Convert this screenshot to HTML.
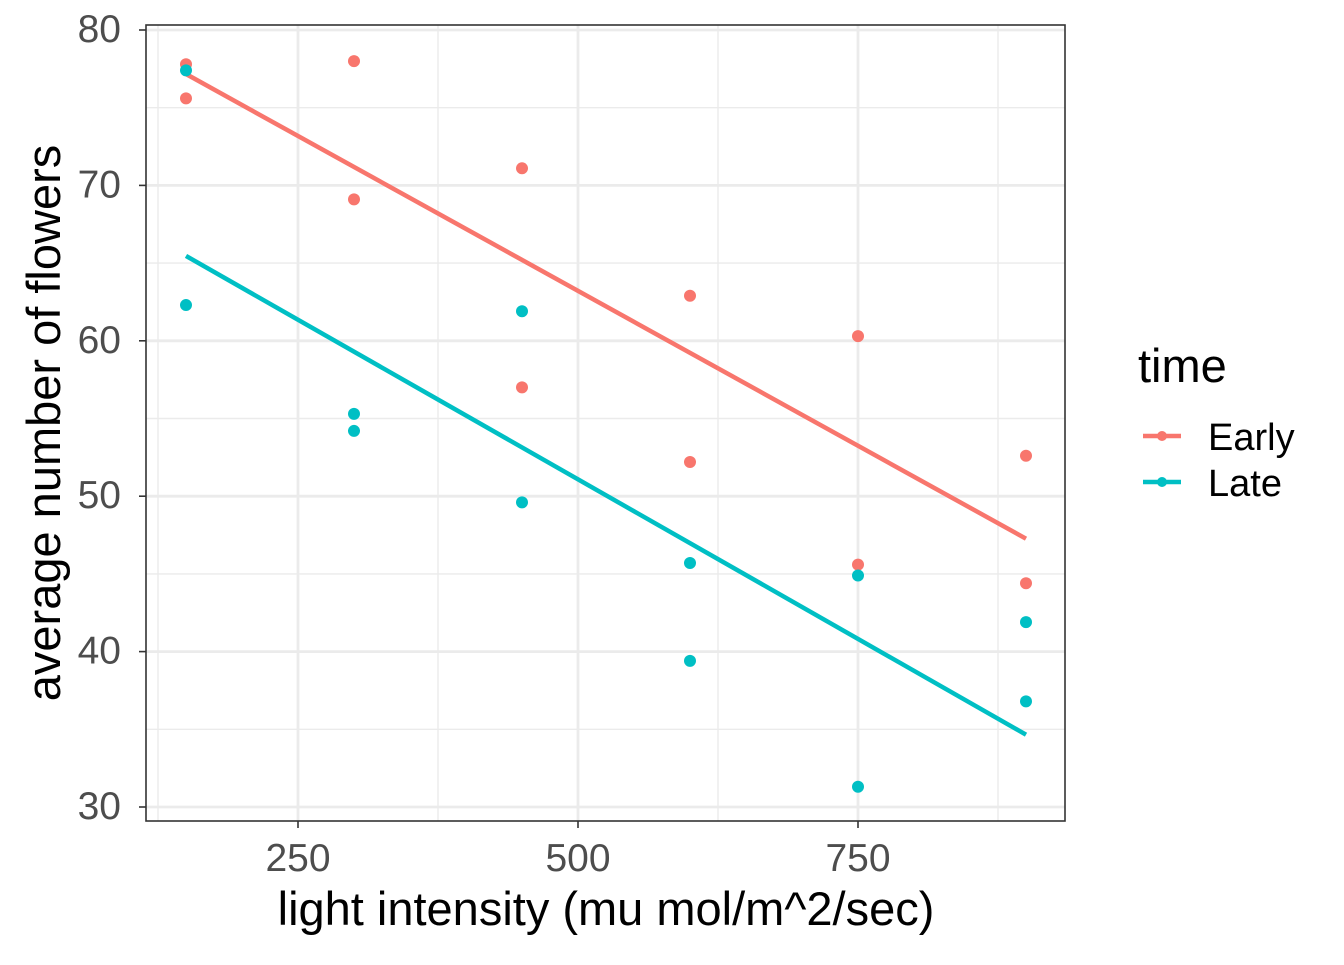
<!DOCTYPE html>
<html><head><meta charset="utf-8"><style>
body{margin:0;background:#fff}
svg{font-family:"Liberation Sans",Arial,sans-serif}
</style></head><body>
<svg id="chart" width="1344" height="960" xmlns="http://www.w3.org/2000/svg">
<rect width="1344" height="960" fill="#fff"/>
<g id="grid"></g>
<g id="lines"></g>
<g id="points"></g>
<rect x="146" y="25" width="919" height="796" fill="none" stroke="#333" stroke-width="1.6"/>
<g id="axes"></g>
<text x="606" y="925" text-anchor="middle" style="font-size:47px" fill="#000">light intensity (mu mol/m^2/sec)</text>
<text transform="translate(60,423) rotate(-90)" text-anchor="middle" style="font-size:47px" fill="#000">average number of flowers</text>
<g>
<text x="1138" y="382" style="font-size:47px" fill="#000">time</text>
<g>
<line x1="1143" y1="436" x2="1181" y2="436" stroke="#F8766D" stroke-width="4.5"/><circle cx="1162" cy="436" r="5" fill="#F8766D"/>
<text x="1208" y="450" style="font-size:38px" fill="#000">Early</text></g>
<g>
<line x1="1143" y1="482" x2="1181" y2="482" stroke="#00BFC4" stroke-width="4.5"/><circle cx="1162" cy="482" r="5" fill="#00BFC4"/>
<text x="1208" y="496" style="font-size:38px" fill="#000">Late</text></g>
</g>
</svg>
<script>
const lightLevels=[150,150,300,300,450,450,600,600,750,750,900,900];
const earlyValues=[77.8,75.6,69.1,78.0,57.0,71.1,62.9,52.2,60.3,45.6,52.6,44.4];
const lateValues=[62.3,77.4,55.3,54.2,49.6,61.9,39.4,45.7,31.3,44.9,36.8,41.9];
const xTicks=[250,500,750];
const yTicks=[30,40,50,60,70,80];
const xMinor=[125,375,625,875];
const yMinor=[35,45,55,65,75];
const NS="http://www.w3.org/2000/svg";
const xs=v=>298+(v-250)*1.12;
const ys=v=>807-(v-30)*15.54;
function mk(tag,attrs,parent){const e=document.createElementNS(NS,tag);for(const k in attrs)e.setAttribute(k,attrs[k]);parent.appendChild(e);return e;}
const grid=document.getElementById('grid'),axes=document.getElementById('axes');
xMinor.forEach(v=>{const l=mk('line',{x1:xs(v),x2:xs(v),y1:25,y2:821,stroke:'#ebebeb','stroke-width':1.4},grid);

});
yMinor.forEach(v=>{const l=mk('line',{x1:146,x2:1065,y1:ys(v),y2:ys(v),stroke:'#ebebeb','stroke-width':1.4},grid);

});
xTicks.forEach(v=>{const l=mk('line',{x1:xs(v),x2:xs(v),y1:25,y2:821,stroke:'#ebebeb','stroke-width':2.8},grid);


const t=mk('line',{x1:xs(v),x2:xs(v),y1:821,y2:828,stroke:'#333','stroke-width':1.6},axes);


const tx=mk('text',{x:xs(v),y:871,'text-anchor':'middle',style:'font-size:39px',fill:'#4d4d4d'},axes);tx.textContent=v;

});
yTicks.forEach(v=>{const l=mk('line',{x1:146,x2:1065,y1:ys(v),y2:ys(v),stroke:'#ebebeb','stroke-width':2.8},grid);


const t=mk('line',{x1:139,x2:146,y1:ys(v),y2:ys(v),stroke:'#333','stroke-width':1.6},axes);


const tx=mk('text',{x:121,y:ys(v)+12,'text-anchor':'end',style:'font-size:39px',fill:'#4d4d4d'},axes);tx.textContent=v;

});
function fit(x,y){const n=x.length,mx=x.reduce((a,b)=>a+b)/n,my=y.reduce((a,b)=>a+b)/n;let sxy=0,sxx=0;for(let i=0;i<n;i++){sxy+=(x[i]-mx)*(y[i]-my);sxx+=(x[i]-mx)**2;}const b=sxy/sxx;return [my-b*mx,b];}
const lines=document.getElementById('lines'),pts=document.getElementById('points');
[[earlyValues,'#F8766D','early'],[lateValues,'#00BFC4','late']].forEach(([vals,col,nm])=>{
const [a,b]=fit(lightLevels,vals);const x0=Math.min(...lightLevels),x1=Math.max(...lightLevels);
const l=mk('line',{x1:xs(x0),y1:ys(a+b*x0),x2:xs(x1),y2:ys(a+b*x1),stroke:col,'stroke-width':4.5},lines);


vals.forEach((v,i)=>{const c=mk('circle',{cx:xs(lightLevels[i]),cy:ys(v),r:6,fill:col},pts);

});
});
</script>
</body></html>
